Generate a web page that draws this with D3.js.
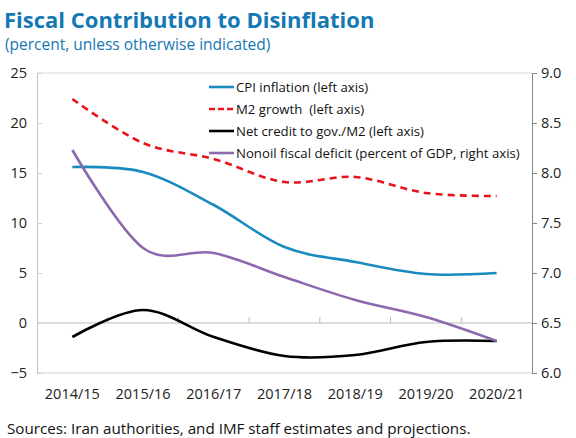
<!DOCTYPE html>
<html><head><meta charset="utf-8">
<script src="https://cdn.jsdelivr.net/npm/d3@7"></script>
<style>body{margin:0;background:#fff}svg{display:block}</style>
</head><body>
<script>
const categories = ["2014/15","2015/16","2016/17","2017/18","2018/19","2019/20","2020/21"];
const cpi = [15.6, 15.1, 11.8, 7.6, 6.1, 4.9, 5.0];
const m2 = [22.4, 18.0, 16.4, 14.1, 14.6, 13.0, 12.7];
const netCredit = [-1.4, 1.3, -1.4, -3.3, -3.2, -1.9, -1.8];
const nonoil = [8.23, 7.25, 7.2, 6.96, 6.73, 6.56, 6.32];
const leftTicks = [-5, 0, 5, 10, 15, 20, 25];
const rightTicks = [6.0, 6.5, 7.0, 7.5, 8.0, 8.5, 9.0];
const seriesNames = ["CPI inflation (left axis)","M2 growth  (left axis)","Net credit to gov./M2 (left axis)","Nonoil fiscal deficit (percent of GDP, right axis)"];

const W = 576, H = 438;
const L = 37, R = 532, T = 73, B = 373;
const font = "'Open Sans', 'Noto Sans', sans-serif";
const svg = d3.select("body").append("svg").attr("width", W).attr("height", H)
  .style("font-family", font);

const x = d3.scaleBand().domain(categories).range([L, R]);
const xc = d => x(d) + x.bandwidth() / 2;
const yL = d3.scaleLinear().domain([-5, 25]).range([B, T]);
const yR = d3.scaleLinear().domain([6, 9]).range([B, T]);

// title
svg.append("text").attr("x", 4).attr("y", 28).text("Fiscal Contribution to Disinflation")
  .attr("font-size", 22).attr("font-weight", "bold").attr("fill", "#1478b4");
svg.append("text").attr("x", 5).attr("y", 50).text("(percent, unless otherwise indicated)")
  .attr("font-size", 15.5).attr("fill", "#1478b4");

// frame lines
svg.append("line").attr("x1", L).attr("x2", R).attr("y1", T).attr("y2", T).attr("stroke", "#d9d9d9");
svg.append("line").attr("x1", L).attr("x2", R).attr("y1", B).attr("y2", B).attr("stroke", "#d0d0d0");
svg.append("line").attr("x1", L).attr("x2", R).attr("y1", yL(0)).attr("y2", yL(0)).attr("stroke", "#bbbbbb");

// left axis
const la = svg.append("g").attr("transform", `translate(${L},0)`)
  .call(d3.axisLeft(yL).tickValues(leftTicks).tickSize(-5).tickPadding(10).tickFormat(d3.format("d")));
la.select(".domain").attr("stroke", "#c0c0c0");
la.selectAll(".tick line").attr("stroke", "#d0d0d0");
la.selectAll("text").attr("font-size", 14.5).attr("fill", "#222").attr("font-family", font);

// right axis
const ra = svg.append("g").attr("transform", `translate(${R},0)`)
  .call(d3.axisRight(yR).tickValues(rightTicks).tickSize(5).tickPadding(4).tickFormat(d3.format(".1f")));
ra.select(".domain").attr("stroke", "#888");
ra.selectAll(".tick line").attr("stroke", "#888");
ra.selectAll("text").attr("font-size", 14.5).attr("fill", "#222").attr("font-family", font);

// x ticks on zero line (band boundaries)
svg.append("g").selectAll("line").data(categories.slice(1)).join("line")
  .attr("x1", d => x(d)).attr("x2", d => x(d))
  .attr("y1", yL(0)).attr("y2", yL(0) - 6).attr("stroke", "#bbbbbb");

// x labels
svg.append("g").selectAll("text").data(categories).join("text")
  .attr("x", d => xc(d)).attr("y", 399).attr("text-anchor", "middle")
  .attr("font-size", 14.5).attr("fill", "#222").text(d => d);

// lines
const curve = d3.curveCatmullRom.alpha(0);
const mk = (scale) => d3.line().x((d, i) => xc(categories[i])).y(d => scale(d)).curve(curve);
const series = [
  {data: cpi, scale: yL, color: "#1a8bbf", dash: null},
  {data: m2, scale: yL, color: "#e8131b", dash: "7,5"},
  {data: netCredit, scale: yL, color: "#000", dash: null},
  {data: nonoil, scale: yR, color: "#8c68ae", dash: null}
];
series.forEach(s => {
  svg.append("path").attr("d", mk(s.scale)(s.data)).attr("fill", "none")
    .attr("stroke", s.color).attr("stroke-width", 2.6)
    .attr("stroke-dasharray", s.dash);
});

// legend
const lg = svg.append("g");
series.forEach((s, i) => {
  const yy = 87 + i * 22;
  lg.append("line").attr("x1", 209).attr("x2", 234).attr("y1", yy).attr("y2", yy)
    .attr("stroke", s.color).attr("stroke-width", 2.6).attr("stroke-dasharray", s.dash ? "6,3" : null);
  lg.append("text").attr("x", 236).attr("y", yy + 5).attr("font-size", 13.2).attr("fill", "#111")
    .text(seriesNames[i]).style("white-space", "pre");
});

// footer
svg.append("text").attr("x", 7).attr("y", 434).attr("font-size", 15.2).attr("fill", "#111")
  .text("Sources: Iran authorities, and IMF staff estimates and projections.");
</script>
</body></html>
